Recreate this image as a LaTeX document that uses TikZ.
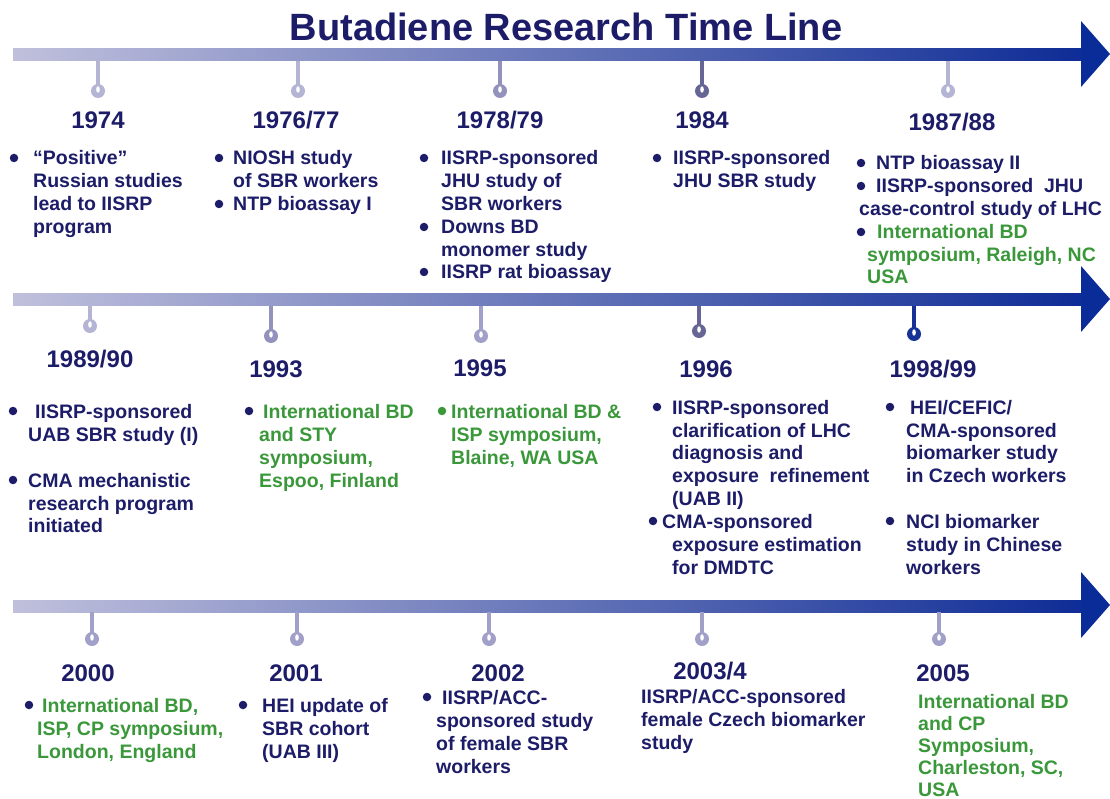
\documentclass[tikz,border=0pt]{standalone}
\usepackage{fontspec}
\setmainfont{Liberation Sans}
\definecolor{navy}{RGB}{28,28,104}
\definecolor{grn}{RGB}{58,152,58}
\definecolor{arrL}{RGB}{192,192,220}
\definecolor{arrR}{RGB}{14,44,150}
\definecolor{arrH}{RGB}{10,44,152}
\definecolor{pinA}{RGB}{180,180,212}
\definecolor{pinB}{RGB}{160,160,200}
\definecolor{pinC}{RGB}{146,146,188}
\definecolor{pinD}{RGB}{102,102,150}
\definecolor{pinE}{RGB}{22,50,150}
\newcommand{\mytl}[5]{\node[#2] (#1) at ({#3},{#4+7}) {#5};}
\newcommand{\mydot}[4]{\node[dot,fill=#2] (#1) at (#3,#4) {};}
\newcommand{\mypin}[5]{%
  \draw[line width=3.5pt,#5] (#2,#3) -- (#2,#4);
  \fill[#5] (#2,#4) circle[radius=7];
  \fill[white] (#2,{#4-1.5}) ellipse[x radius=1.8,y radius=3.2];
  \coordinate (#1) at (#2,{#4+7});}
\newcommand{\myarrow}[1]{%
  \shade[left color=arrL,right color=arrR] (13,{#1-6}) rectangle (1084,{#1+6});
  \fill[arrH] (1081,{#1-34}) -- (1110,{#1-1}) -- (1081,{#1+32}) -- cycle;}
\begin{document}
\begin{tikzpicture}[x=1pt,y=-1pt,
  txt/.style={anchor=base west,inner sep=0pt,font=\fontsize{19.5}{23}\selectfont\bfseries,text=navy},
  gtxt/.style={txt,text=grn},
  yr/.style={anchor=base,inner sep=0pt,font=\fontsize{24}{28}\selectfont\bfseries,text=navy},
  dot/.style={circle,inner sep=0pt,minimum size=8.5pt}]
\useasboundingbox[fill=white] (0,0) rectangle (1110,799);

\node[anchor=base,inner sep=0pt,font=\fontsize{38}{40}\selectfont\bfseries,text=navy] (title) at (566,41) {Butadiene Research Time Line};

% arrows
\myarrow{55}
\myarrow{300}
\myarrow{606}

% pins top
\mypin{p1}{98}{61}{91}{pinA}
\mypin{p2}{298}{61}{91}{pinA}
\mypin{p3}{500}{61}{91}{pinC}
\mypin{p4}{702}{61}{91}{pinD}
\mypin{p5}{948}{61}{91}{pinA}
% pins middle
\mypin{p6}{90}{306}{326}{pinA}
\mypin{p7}{271}{306}{336}{pinC}
\mypin{p8}{481}{306}{336}{pinB}
\mypin{p9}{699}{306}{331}{pinD}
\mypin{p10}{914}{306}{334}{pinE}
% pins bottom
\mypin{p11}{92}{612}{639}{pinB}
\mypin{p12}{297}{612}{639}{pinB}
\mypin{p13}{489}{612}{639}{pinB}
\mypin{p14}{702}{612}{639}{pinB}
\mypin{p15}{939}{612}{639}{pinB}

% years
\node[yr] (y1) at (98,129) {1974};
\node[yr] (y2) at (296,129) {1976/77};
\node[yr] (y3) at (500,129) {1978/79};
\node[yr] (y4) at (702,129) {1984};
\node[yr] (y5) at (952,131) {1987/88};
\node[yr] (y6) at (90,367) {1989/90};
\node[yr] (y7) at (276,377) {1993};
\node[yr] (y8) at (480,376) {1995};
\node[yr] (y9) at (706,377) {1996};
\node[yr] (y10) at (933,377) {1998/99};
\node[yr] (y11) at (88,681) {2000};
\node[yr] (y12) at (296,681) {2001};
\node[yr] (y13) at (498,681) {2002};
\node[yr] (y14) at (710,679) {2003/4};
\node[yr] (y15) at (943,681) {2005};

% 1974
\mydot{d1}{navy}{14}{158}
\mytl{t1a}{txt}{33}{158}{“Positive”}
\mytl{t1b}{txt}{33}{181}{Russian studies}
\mytl{t1c}{txt}{33}{204}{lead to IISRP}
\mytl{t1d}{txt}{33}{227}{program}
% 1976/77
\mydot{d2}{navy}{219}{158}
\mytl{t2a}{txt}{233}{158}{NIOSH study}
\mytl{t2b}{txt}{233}{181}{of SBR workers}
\mydot{d3}{navy}{219}{204}
\mytl{t2c}{txt}{233}{204}{NTP bioassay I}
% 1978/79
\mydot{d4}{navy}{424}{158}
\mytl{t3a}{txt}{441}{158}{IISRP-sponsored}
\mytl{t3b}{txt}{441}{181}{JHU study of}
\mytl{t3c}{txt}{441}{204}{SBR workers}
\mydot{d5}{navy}{424}{227}
\mytl{t3d}{txt}{441}{227}{Downs BD}
\mytl{t3e}{txt}{441}{250}{monomer study}
\mydot{d6}{navy}{424}{272}
\mytl{t3f}{txt}{441}{272}{IISRP rat bioassay}
% 1984
\mydot{d7}{navy}{657}{158}
\mytl{t4a}{txt}{673}{158}{IISRP-sponsored}
\mytl{t4b}{txt}{673}{181}{JHU SBR study}
% 1987/88
\mydot{d8}{navy}{861}{163}
\mytl{t5a}{txt}{876}{163}{NTP bioassay II}
\mydot{d9}{navy}{861}{186}
\mytl{t5b}{txt}{876}{186}{IISRP-sponsored\ \ JHU}
\mytl{t5c}{txt}{859}{209}{case-control study of LHC}
\mydot{d10}{navy}{861}{232}
\mytl{t5d}{gtxt}{877}{232}{International BD}
\mytl{t5e}{gtxt}{867}{255}{symposium, Raleigh, NC}
\mytl{t5f}{gtxt}{867}{277}{USA}

% 1989/90
\mydot{d11}{navy}{13}{411}
\mytl{t6a}{txt}{35}{411}{IISRP-sponsored}
\mytl{t6b}{txt}{28}{434}{UAB SBR study (I)}
\mydot{d12}{navy}{13}{480}
\mytl{t6c}{txt}{28}{480}{CMA mechanistic}
\mytl{t6d}{txt}{28}{503}{research program}
\mytl{t6e}{txt}{28}{525}{initiated}
% 1993
\mydot{d13}{navy}{249}{411}
\mytl{t7a}{gtxt}{263}{411}{International BD}
\mytl{t7b}{gtxt}{259}{434}{and STY}
\mytl{t7c}{gtxt}{259}{457}{symposium,}
\mytl{t7d}{gtxt}{259}{480}{Espoo, Finland}
% 1995
\mydot{d14}{grn}{442}{411}
\mytl{t8a}{gtxt}{451}{411}{International BD \&}
\mytl{t8b}{gtxt}{451}{434}{ISP symposium,}
\mytl{t8c}{gtxt}{451}{457}{Blaine, WA USA}
% 1996
\mydot{d15}{navy}{657}{407}
\mytl{t9a}{txt}{672}{407}{IISRP-sponsored}
\mytl{t9b}{txt}{672}{430}{clarification of LHC}
\mytl{t9c}{txt}{672}{452}{diagnosis and}
\mytl{t9d}{txt}{672}{475}{exposure\ \ refinement}
\mytl{t9e}{txt}{672}{498}{(UAB II)}
\mydot{d16}{navy}{653}{521}
\mytl{t9f}{txt}{662}{521}{CMA-sponsored}
\mytl{t9g}{txt}{672}{544}{exposure estimation}
\mytl{t9h}{txt}{672}{567}{for DMDTC}
% 1998/99
\mydot{d17}{navy}{890}{407}
\mytl{t10a}{txt}{910}{407}{HEI/CEFIC/}
\mytl{t10b}{txt}{906}{430}{CMA-sponsored}
\mytl{t10c}{txt}{906}{452}{biomarker study}
\mytl{t10d}{txt}{906}{475}{in Czech workers}
\mydot{d18}{navy}{890}{521}
\mytl{t10e}{txt}{906}{521}{NCI biomarker}
\mytl{t10f}{txt}{906}{544}{study in Chinese}
\mytl{t10g}{txt}{906}{567}{workers}

% 2000
\mydot{d19}{navy}{29}{705}
\mytl{t11a}{gtxt}{42}{705}{International BD,}
\mytl{t11b}{gtxt}{37}{728}{ISP, CP symposium,}
\mytl{t11c}{gtxt}{37}{751}{London, England}
% 2001
\mydot{d20}{navy}{243}{705}
\mytl{t12a}{txt}{262}{705}{HEI update of}
\mytl{t12b}{txt}{262}{728}{SBR cohort}
\mytl{t12c}{txt}{262}{751}{(UAB III)}
% 2002
\mydot{d21}{navy}{427}{697}
\mytl{t13a}{txt}{442}{697}{IISRP/ACC-}
\mytl{t13b}{txt}{436}{720}{sponsored study}
\mytl{t13c}{txt}{436}{743}{of female SBR}
\mytl{t13d}{txt}{436}{766}{workers}
% 2003/4
\mytl{t14a}{txt}{641}{696}{IISRP/ACC-sponsored}
\mytl{t14b}{txt}{641}{719}{female Czech biomarker}
\mytl{t14c}{txt}{641}{742}{study}
% 2005
\mytl{t15a}{gtxt}{918}{701}{International BD}
\mytl{t15b}{gtxt}{918}{723}{and CP}
\mytl{t15c}{gtxt}{918}{745}{Symposium,}
\mytl{t15d}{gtxt}{918}{767}{Charleston, SC,}
\mytl{t15e}{gtxt}{918}{789}{USA}
\end{tikzpicture}
\end{document}
